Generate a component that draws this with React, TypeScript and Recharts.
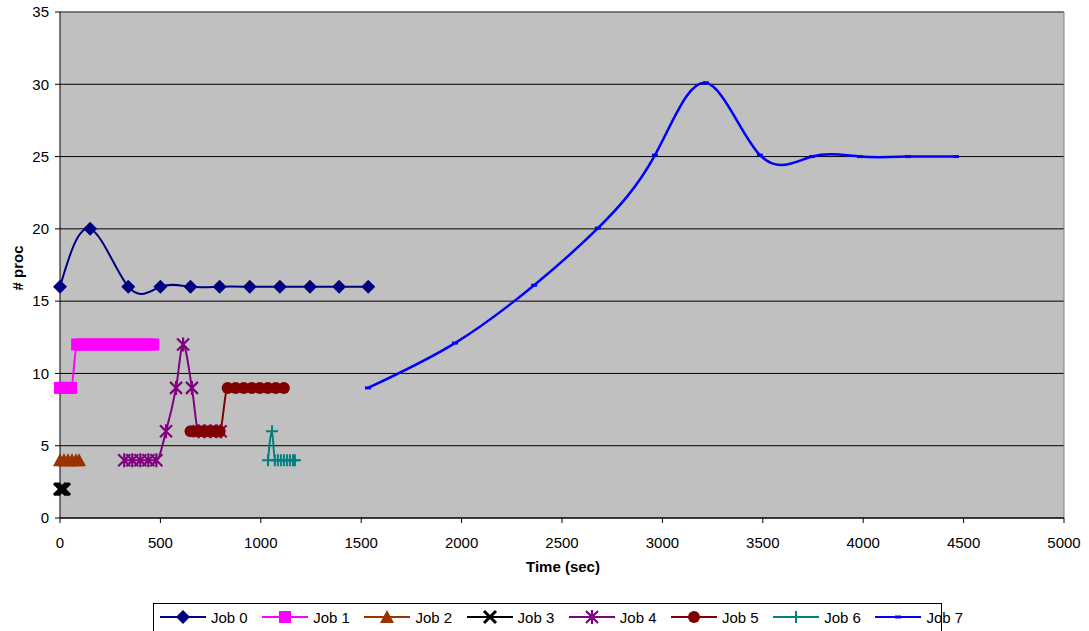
import React from "react";
import { LineChart, Line, XAxis, YAxis, CartesianGrid, ReferenceLine } from "recharts";

// Job timelines: x = time (sec), y = # proc
const job0X = [0, 150, 340, 500, 650, 795, 945, 1095, 1245, 1390, 1535];
const job0Y = [16, 20, 16, 16, 16, 16, 16, 16, 16, 16, 16];

const job1X = [0, 20, 40, 55, 85, 105, 125, 145, 165, 185, 205, 225, 245, 265, 285, 305, 325, 345, 365, 385, 405, 425, 445, 465];
const job1Y = [9, 9, 9, 9, 12, 12, 12, 12, 12, 12, 12, 12, 12, 12, 12, 12, 12, 12, 12, 12, 12, 12, 12, 12];

const job2X = [0, 20, 40, 60, 80, 95];
const job2Y = [4, 4, 4, 4, 4, 4];

const job3X = [0, 10, 20];
const job3Y = [2, 2, 2];

const job4X = [320, 360, 400, 440, 480, 528, 578, 613, 657, 690, 720, 750, 780, 800];
const job4Y = [4, 4, 4, 4, 4, 6, 9, 12, 9, 6, 6, 6, 6, 6];

const job5X = [650, 680, 710, 740, 770, 795, 835, 875, 915, 955, 995, 1035, 1075, 1115];
const job5Y = [6, 6, 6, 6, 6, 6, 9, 9, 9, 9, 9, 9, 9, 9];

const job6X = [1036, 1056, 1070, 1085, 1100, 1115, 1130, 1145, 1160, 1170];
const job6Y = [4, 6, 4, 4, 4, 4, 4, 4, 4, 4];

const job7X = [1534, 1967, 2361, 2679, 2963, 3217, 3486, 3745, 3984, 4223, 4462];
const job7Y = [9, 12.1, 16.1, 20.05, 25.1, 30.1, 25.1, 25, 25, 25, 25];

const xTicks = [0, 500, 1000, 1500, 2000, 2500, 3000, 3500, 4000, 4500, 5000];
const yTicks = [0, 5, 10, 15, 20, 25, 30, 35];

const zip = (xs: number[], ys: number[]) => xs.map((x, i) => ({ x, y: ys[i] }));

const series = [
  { name: "Job 0", data: zip(job0X, job0Y), color: "#000080", marker: "diamond", curve: "natural" },
  { name: "Job 1", data: zip(job1X, job1Y), color: "#FF00FF", marker: "square", curve: "monotone" },
  { name: "Job 2", data: zip(job2X, job2Y), color: "#993300", marker: "triangle", curve: "monotone" },
  { name: "Job 3", data: zip(job3X, job3Y), color: "#000000", marker: "x", curve: "monotone" },
  { name: "Job 4", data: zip(job4X, job4Y), color: "#800080", marker: "star", curve: "monotone" },
  { name: "Job 5", data: zip(job5X, job5Y), color: "#800000", marker: "circle", curve: "monotone" },
  { name: "Job 6", data: zip(job6X, job6Y), color: "#008080", marker: "plus", curve: "monotone" },
  { name: "Job 7", data: zip(job7X, job7Y), color: "#0000FF", marker: "dash", curve: "natural" },
];

function Marker({ kind, color, cx, cy }: { kind: string; color: string; cx: number; cy: number }) {
  switch (kind) {
    case "diamond":
      return <path d={`M${cx},${cy - 7}L${cx + 7},${cy}L${cx},${cy + 7}L${cx - 7},${cy}Z`} fill={color} />;
    case "square":
      return <rect x={cx - 6} y={cy - 6} width={12} height={12} fill={color} />;
    case "triangle":
      return <path d={`M${cx},${cy - 7}L${cx + 7},${cy + 6}L${cx - 7},${cy + 6}Z`} fill={color} />;
    case "x":
      return (
        <path
          d={`M${cx - 6},${cy - 6}L${cx + 6},${cy + 6}M${cx + 6},${cy - 6}L${cx - 6},${cy + 6}`}
          stroke={color}
          strokeWidth={3}
        />
      );
    case "star":
      return (
        <path
          d={`M${cx - 6},${cy - 6}L${cx + 6},${cy + 6}M${cx + 6},${cy - 6}L${cx - 6},${cy + 6}M${cx},${cy - 7}L${cx},${cy + 7}`}
          stroke={color}
          strokeWidth={2.2}
        />
      );
    case "circle":
      return <circle cx={cx} cy={cy} r={6} fill={color} />;
    case "plus":
      return <path d={`M${cx - 6},${cy}L${cx + 6},${cy}M${cx},${cy - 6}L${cx},${cy + 6}`} stroke={color} strokeWidth={2} />;
    default:
      return <rect x={cx - 3} y={cy - 1.5} width={6} height={3} fill={color} />;
  }
}

const makeDot = (kind: string, color: string) => (props: any) => {
  const { cx, cy, index } = props;
  if (cx == null || cy == null) return <g key={index} />;
  return (
    <g key={index}>
      <Marker kind={kind} color={color} cx={cx} cy={cy} />
    </g>
  );
};

const FONT = "'Liberation Sans', Arial, sans-serif";

export default function App() {
  return (
    <div style={{ position: "absolute", left: 0, top: 0, width: 1089, height: 631, background: "#fff", fontFamily: FONT }}>
      <LineChart width={1089} height={631} margin={{ top: 12, right: 25, bottom: 0, left: 0 }}>
        <CartesianGrid vertical={false} stroke="#000" fill="#C0C0C0" fillOpacity={1} />
        <XAxis
          type="number"
          dataKey="x"
          domain={[0, 5000]}
          ticks={xTicks}
          height={113}
          stroke="#000"
          tickSize={5}
          tickMargin={14}
          tick={{ fontSize: 15, fill: "#000", fontFamily: FONT }}
          allowDuplicatedCategory={false}
        />
        <YAxis
          type="number"
          domain={[0, 35]}
          ticks={yTicks}
          width={60}
          stroke="#000"
          tickSize={5}
          tickMargin={6}
          tick={{ fontSize: 15, fill: "#000", fontFamily: FONT }}
        />
        <ReferenceLine y={35} stroke="#808080" />
        <ReferenceLine x={5000} stroke="#808080" />
        {series.map((s) => (
          <Line
            key={s.name}
            data={s.data}
            dataKey="y"
            name={s.name}
            type={s.curve as any}
            stroke={s.color}
            strokeWidth={s.marker === "dash" ? 2.5 : 2}
            dot={makeDot(s.marker, s.color)}
            activeDot={false}
            isAnimationActive={false}
          />
        ))}
      </LineChart>

      <div
        style={{
          position: "absolute",
          left: 0,
          width: 1126,
          top: 558,
          textAlign: "center",
          fontWeight: "bold",
          fontSize: 15,
        }}
      >
        Time (sec)
      </div>
      <div
        style={{
          position: "absolute",
          left: 17,
          top: 268,
          transform: "translate(-50%, -50%) rotate(-90deg)",
          fontWeight: "bold",
          fontSize: 15,
          whiteSpace: "nowrap",
        }}
      >
        # proc
      </div>

      <div
        style={{
          position: "absolute",
          left: 153,
          top: 603,
          width: 789,
          height: 30,
          border: "1px solid #000",
          background: "#fff",
          boxSizing: "border-box",
        }}
      >
        {series.map((s, i) => (
          <div
            key={s.name}
            style={{
              position: "absolute",
              left: 6 + i * 102.2,
              top: 4,
              display: "flex",
              alignItems: "center",
              fontSize: 15,
              whiteSpace: "nowrap",
            }}
          >
            <svg width={46} height={18}>
              <line x1={0} y1={9} x2={46} y2={9} stroke={s.color} strokeWidth={2} />
              <Marker kind={s.marker} color={s.color} cx={23} cy={9} />
            </svg>
            <span style={{ marginLeft: 5 }}>{s.name}</span>
          </div>
        ))}
      </div>
    </div>
  );
}
